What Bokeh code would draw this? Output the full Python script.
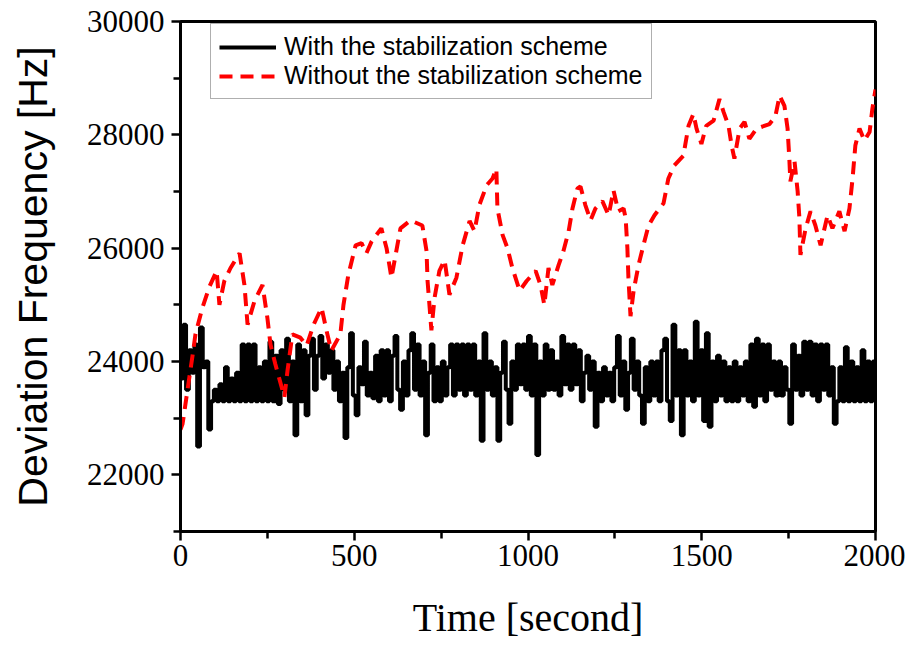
from bokeh.plotting import figure
from bokeh.models import FixedTicker, Legend, LegendItem, Range1d
from bokeh.embed import file_html
from bokeh.resources import INLINE

# ---- data ----
# black: with stabilization scheme, sampled every 8 s from 0 to 2000 s
with_step = 8
with_vals = [
    23700, 24650, 23500, 24200, 23800, 24300, 22500, 24600, 23900, 24000,
    22800, 23300, 23500, 23300, 23600, 23300, 23900, 23300, 23700, 23300,
    23800, 23300, 24300, 23300, 24300, 23300, 24300, 23300, 23900, 23300,
    24000, 23300, 24350, 23300, 24100, 23250, 24200, 23500, 24400, 23300,
    24000, 22700, 24300, 23300, 24200, 23050, 24100, 24400, 23500, 24100,
    24450, 23700, 24300, 23800, 24200, 23500, 24000, 23300, 23800, 22650,
    23900, 24500, 23400, 23050, 23900, 23600, 24350, 23400, 23800, 23350,
    24100, 23300, 24200, 23400, 24200, 23300, 24100, 24450, 23500, 23150,
    24000, 23400, 24200, 24500, 23500, 24300, 23400, 24000, 22700, 23800,
    24300, 23300, 23900, 23300, 24000, 23400, 23900, 24300, 23400, 24300,
    23500, 24300, 23400, 24300, 23500, 24300, 23400, 24000, 22600, 24500,
    23500, 24000, 23400, 23900, 22600, 23800, 24350, 23500, 22900, 24000,
    23500, 24300, 23600, 24300, 23500, 24450, 23400, 24300, 22350, 24000,
    23400, 24300, 23500, 24200, 23500, 24000, 23400, 24450, 23600, 24300,
    23500, 24300, 23600, 24200, 23300, 23800, 24100, 23500, 24000, 22850,
    23800, 23300, 23900, 23400, 23800, 23300, 23900, 24450, 23400, 24000,
    23150, 23800, 24400, 23500, 24000, 23400, 22900, 23900, 23300, 24000,
    23400, 24000, 23300, 24200, 24400, 23300, 22950, 24650, 23400, 24200,
    22700, 24200, 23400, 24000, 23300, 24700, 23400, 24200, 22950, 24500,
    22850, 24000, 23300, 24100, 23400, 24000, 23300, 23900, 23300, 24000,
    23300, 23900, 23400, 24000, 23300, 24300, 23200, 24400, 23400, 24300,
    23300, 24300, 23500, 24000, 23400, 24000, 23400, 23900, 23500, 22900,
    24300, 23500, 24100, 23400, 24350, 23500, 24350, 23400, 24300, 23300,
    24300, 23500, 24300, 23400, 23900, 22900, 23300, 23900, 23300, 24250,
    23300, 24000, 23300, 23900, 23300, 24200, 23300, 24000, 23300, 24000,
    23300,
]
with_t = [i * with_step for i in range(len(with_vals))]

# red: without stabilization scheme
without_t = [
    0, 6, 20, 35, 43, 63, 84, 104, 112, 126, 144, 170, 184, 193, 213, 236, 250, 259, 273, 299,
    308, 322, 345, 363, 383, 406, 420, 434, 460, 469, 483, 504, 521, 535, 550, 578, 593, 607, 619, 633,
    662, 696, 708, 711, 717, 722, 731, 745, 760, 774, 794, 812, 832, 846, 860, 881, 898, 909, 912, 927,
    941, 955, 976, 996, 1022, 1036, 1047, 1059, 1070, 1088, 1102, 1117, 1128, 1142, 1151, 1165, 1180, 1194, 1214, 1232,
    1246, 1260, 1275, 1281, 1286, 1289, 1295, 1304, 1318, 1332, 1347, 1364, 1390, 1404, 1421, 1447, 1462, 1476, 1485, 1499,
    1513, 1534, 1551, 1563, 1577, 1586, 1594, 1609, 1623, 1637, 1658, 1695, 1712, 1724, 1738, 1747, 1752, 1755, 1767, 1776,
    1781, 1784, 1799, 1813, 1827, 1842, 1862, 1876, 1896, 1911, 1925, 1934, 1942, 1954, 1968, 1983, 1991, 2000,
]
without_vals = [
    22800, 22900, 23490, 24120, 24480, 24950, 25330, 25600, 25000, 25420, 25650, 25910, 25350, 24650, 25070, 25350, 24770, 24300, 23950, 23370,
    23840, 24480, 24420, 24280, 24650, 24950, 24550, 24190, 24480, 25000, 25530, 26050, 26090, 25910, 26120, 26350, 26000, 25480, 25880, 26350,
    26490, 26400, 25950, 25420, 24950, 24550, 25120, 25600, 25790, 25180, 25480, 26050, 26480, 26300, 26760, 27110, 27230, 27400, 26700, 26230,
    26000, 25650, 25250, 25420, 25600, 25350, 25000, 25650, 25350, 25700, 25950, 26300, 26700, 27050, 27090, 26760, 26490, 26700, 26830, 26580,
    27020, 26650, 26700, 26530, 26000, 25480, 24800, 25250, 25700, 26050, 26400, 26580, 26790, 27230, 27460, 27630, 28160, 28370, 28110, 27840,
    28160, 28250, 28630, 28400, 28160, 27810, 27580, 28110, 28230, 27930, 28110, 28190, 28330, 28690, 28510, 28110, 27580, 27180, 27530, 27000,
    26530, 25880, 26350, 26650, 26400, 26050, 26580, 26350, 26650, 26300, 26700, 27230, 27810, 28110, 27900, 28050, 28460, 28800,
]

x_major = [0, 500, 1000, 1500, 2000]
x_minor = [250, 750, 1250, 1750]
y_major = [22000, 24000, 26000, 28000, 30000]
y_minor = [21000, 23000, 25000, 27000, 29000]

label_with = "With the stabilization scheme"
label_without = "Without the stabilization scheme"

# ---- figure ----
p = figure(
    width=905, height=642,
    output_backend="svg", toolbar_location=None,
    x_range=Range1d(0, 2000), y_range=Range1d(21000, 30000),
    min_border_left=180, min_border_right=30,
    min_border_top=21, min_border_bottom=108,
)
p.xgrid.visible = False
p.ygrid.visible = False
p.outline_line_color = "black"
p.outline_line_width = 3
p.outline_line_alpha = 1.0

r_with = p.step(with_t, with_vals, mode="after", line_color="black", line_width=4)
r_without = p.line(without_t, without_vals, line_color="#ff0000", line_width=4,
                   line_dash="13 8")

for ax, major, minor in ((p.xaxis[0], x_major, x_minor), (p.yaxis[0], y_major, y_minor)):
    ax.ticker = FixedTicker(ticks=major, minor_ticks=minor)
    ax.axis_line_width = 3
    ax.axis_line_color = "black"
    ax.major_tick_line_width = 2.5
    ax.minor_tick_line_width = 2.5
    ax.major_tick_line_color = "black"
    ax.minor_tick_line_color = "black"
    ax.major_tick_in = 0
    ax.minor_tick_in = 0
    ax.major_tick_out = 9
    ax.minor_tick_out = 7
    ax.major_label_text_font = "Liberation Serif"
    ax.major_label_text_font_size = "31px"
    ax.major_label_text_color = "black"

p.xaxis.major_label_standoff = 4
p.yaxis.major_label_standoff = 7

p.xaxis.axis_label = "Time [second]"
p.xaxis.axis_label_text_font = "Liberation Serif"
p.xaxis.axis_label_text_font_size = "40px"
p.xaxis.axis_label_text_font_style = "normal"
p.xaxis.axis_label_text_color = "black"
p.xaxis.axis_label_standoff = 26

p.yaxis.axis_label = "Deviation Frequency [Hz]"
p.yaxis.axis_label_text_font = "Liberation Sans"
p.yaxis.axis_label_text_font_size = "41px"
p.yaxis.axis_label_text_font_style = "normal"
p.yaxis.axis_label_text_color = "black"
p.yaxis.axis_label_standoff = 28

legend = Legend(
    items=[LegendItem(label=label_with, renderers=[r_with]),
           LegendItem(label=label_without, renderers=[r_without])],
    location=(30, 432),
    label_text_font="Liberation Sans",
    label_text_font_size="25px",
    label_text_color="black",
    glyph_width=57, glyph_height=28, label_height=28,
    label_standoff=8, padding=8, spacing=0, margin=0,
    border_line_color="#606060", border_line_width=1.2,
    background_fill_color="white", background_fill_alpha=1.0,
)
p.add_layout(legend)

open("out.html", "w").write(file_html(p, INLINE))
